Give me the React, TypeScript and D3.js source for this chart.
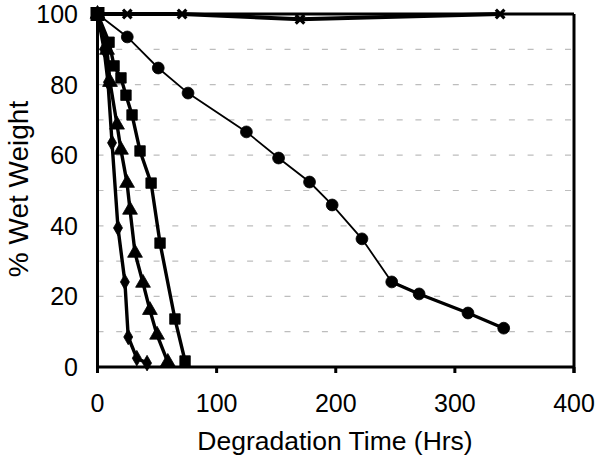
import React from "react";
import * as d3 from "d3";

const xTicks = [0, 100, 200, 300, 400];
const yTicks = [0, 20, 40, 60, 80, 100];
const gridValues = [10, 20, 30, 40, 50, 60, 70, 80, 90];

const crossHours = [0, 25, 71, 170, 338];
const crossValues = [100, 100, 100, 98.5, 100];

const circleHours = [0, 25, 51, 76, 125, 152, 178, 197, 222, 247, 270, 311, 341];
const circleValues = [100, 93.5, 84.7, 77.6, 66.6, 59.2, 52.4, 45.9, 36.3, 24.1, 20.7, 15.3, 11];

const squareHours = [0, 9.7, 13.9, 19.7, 23.9, 29, 35.7, 45, 52.5, 65, 73.5];
const squareValues = [100, 92, 85.3, 81.9, 77, 71.4, 61.2, 52.1, 35.1, 13.6, 1.7];

const triangleHours = [0, 8, 10.5, 16.4, 19.7, 24.8, 27.3, 31.5, 38.2, 44, 50, 59];
const triangleValues = [100, 89.8, 80.7, 68.6, 61.5, 52.1, 44.5, 32.3, 23.8, 16.1, 9.1, 1.4];

const diamondHours = [0, 5.5, 8.8, 12.2, 17.2, 23, 25.8, 33, 41.6];
const diamondValues = [100, 90, 80.7, 63.5, 39.4, 24.1, 8.5, 2.5, 1.1];

const W = 602;
const H = 464;
const FONT = "'Liberation Sans', Arial, sans-serif";

const x = d3.scaleLinear().domain([0, 400]).range([97.5, 574]);
const y = d3.scaleLinear().domain([0, 100]).range([367, 14]);

type P = [number, number];
const zip = (a: number[], b: number[]): P[] => a.map((v, i) => [v, b[i]]);

const line = d3
  .line<P>()
  .x((d) => x(d[0]))
  .y((d) => y(d[1]));

function Markers({ pts, type, size, rotate = 0, stroke = false }: { pts: P[]; type: d3.SymbolType; size: number; rotate?: number; stroke?: boolean }) {
  const path = d3.symbol().type(type).size(size)() as string;
  return (
    <g>
      {pts.map((p, i) => (
        <path
          key={i}
          d={path}
          transform={`translate(${x(p[0])},${y(p[1])}) rotate(${rotate})`}
          fill={stroke ? "none" : "#000"}
          stroke="#000"
          strokeWidth={stroke ? 3.2 : 0.8}
        />
      ))}
    </g>
  );
}

export default function App() {
  const cross = zip(crossHours, crossValues);
  const circle = zip(circleHours, circleValues);
  const square = zip(squareHours, squareValues);
  const tri = zip(triangleHours, triangleValues);
  const dia = zip(diamondHours, diamondValues);
  const x0 = x(0);
  const x1 = x(400);
  const y0 = y(0);
  const y1 = y(100);

  return (
    <svg width={W} height={H} style={{ position: "absolute", left: 0, top: 0, background: "#fff" }}>
      <rect width={W} height={H} fill="#fff" />
      {gridValues.map((v) => (
        <line key={v} x1={x0} x2={x1} y1={y(v)} y2={y(v)} stroke="#bdbdbd" strokeWidth={1.2} strokeDasharray="6,12.7" />
      ))}
      {/* frame */}
      <line x1={x0} x2={x1} y1={y1} y2={y1} stroke="#000" strokeWidth={3} />
      <line x1={x1} x2={x1} y1={y1} y2={y0 + 6} stroke="#000" strokeWidth={3} />
      <line x1={x0} x2={x0} y1={y1} y2={y0 + 6} stroke="#000" strokeWidth={3} />
      <line x1={x0} x2={x1} y1={y0} y2={y0} stroke="#000" strokeWidth={3} />
      {xTicks.map((t) => (
        <line key={t} x1={x(t)} x2={x(t)} y1={y0} y2={y0 + 6} stroke="#000" strokeWidth={3} />
      ))}
      {/* series */}
      <path d={line(circle) as string} fill="none" stroke="#000" strokeWidth={1.8} />
      <path d={line(circle.slice(9)) as string} fill="none" stroke="#000" strokeWidth={3.2} />
      <path d={line(cross) as string} fill="none" stroke="#000" strokeWidth={4} />
      <path d={line(square) as string} fill="none" stroke="#000" strokeWidth={3.4} />
      <path d={line(tri) as string} fill="none" stroke="#000" strokeWidth={3.4} />
      <path d={line(dia) as string} fill="none" stroke="#000" strokeWidth={3.4} />
      <Markers pts={circle} type={d3.symbolCircle} size={110} />
      <Markers pts={square} type={d3.symbolSquare} size={110} />
      <Markers pts={tri} type={d3.symbolTriangle} size={95} />
      <Markers pts={dia} type={d3.symbolDiamond} size={70} />
      <Markers pts={cross} type={d3.symbolX} size={50} stroke />
      <rect x={x0 - 7} y={y1 - 7} width={14} height={14} fill="#000" />
      {/* labels */}
      {xTicks.map((t) => (
        <text key={t} x={x(t)} y={412} textAnchor="middle" fontFamily={FONT} fontSize={25} fill="#000">
          {t}
        </text>
      ))}
      {yTicks.map((t) => (
        <text key={t} x={78} y={y(t) + 9} textAnchor="end" fontFamily={FONT} fontSize={25} fill="#000">
          {t}
        </text>
      ))}
      <text x={335} y={450} textAnchor="middle" fontFamily={FONT} fontSize={26.5} fill="#000">
        Degradation Time (Hrs)
      </text>
      <text transform="translate(28,189) rotate(-90)" textAnchor="middle" fontFamily={FONT} fontSize={28} fill="#000">
        % Wet Weight
      </text>
    </svg>
  );
}
